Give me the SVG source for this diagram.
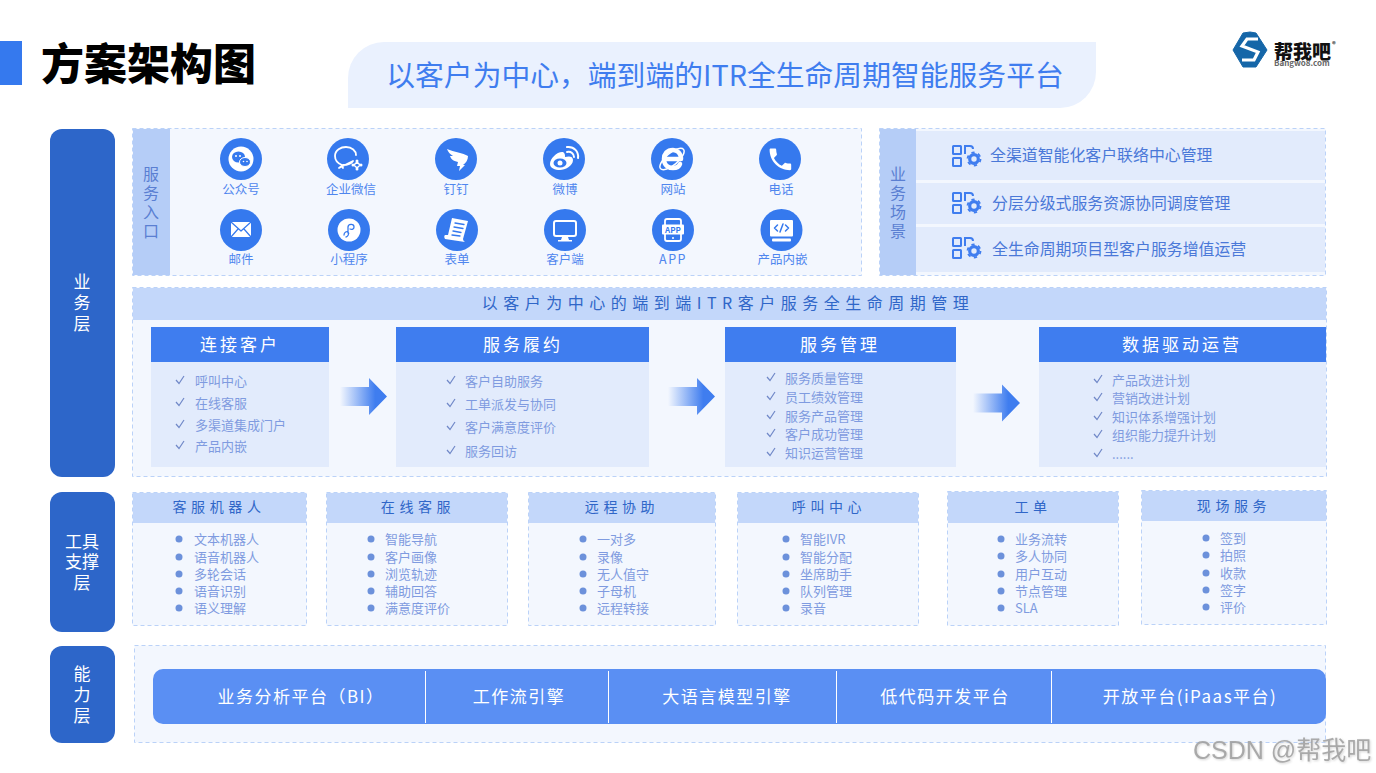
<svg xmlns="http://www.w3.org/2000/svg" width="1376" height="773" viewBox="0 0 1376 773">
<style>
text{font-family:"Noto Sans CJK SC","Noto Sans",sans-serif;dominant-baseline:central;transform:translateY(-0.7px)}
.m{text-anchor:middle}
.panel{fill:#F3F7FE;stroke:#BBD2F8;stroke-width:1;stroke-dasharray:4 3}
.side{fill:#B5CDF7}
.pill{fill:#2D66C9}
.pt{fill:#fff;font-size:17px;text-anchor:middle}
.pv{fill:#fff;font-size:17px;text-anchor:middle;writing-mode:vertical-rl;letter-spacing:4px;transform:none}
.st{fill:#5A7FD2;font-size:16px;text-anchor:middle;writing-mode:vertical-rl;letter-spacing:3px;transform:none}
.lab{fill:#4F86EE;font-size:12.5px;text-anchor:middle}
.row{fill:#E2EBFC}
.rt{fill:#4A78D8;font-size:15.9px}
.hd{fill:#3F7DEF}
.ht{fill:#fff;font-size:17px;letter-spacing:3px;text-anchor:middle}
.it{fill:#7F9BE0;font-size:13px}
.bar{fill:#C3D7FA}
.tt{fill:#2F66C8;font-size:14px;letter-spacing:4.6px;text-anchor:middle}
.dot{fill:#6C91DB}
.ck{fill:none;stroke:#7088C8;stroke-width:1.2}
.cir{fill:#3579EE}
.w{fill:#fff}
.ws{fill:none;stroke:#fff;stroke-linecap:round;stroke-linejoin:round}
.b{fill:#3579EE}
.bs{fill:none;stroke:#3579EE;stroke-linecap:round;stroke-linejoin:round}
.ct{fill:#fff;font-size:17px;letter-spacing:1.5px;text-anchor:middle}
.sc{fill:none;stroke:#3F7DEF;stroke-width:2}
</style>
<defs>
<linearGradient id="ag" x1="0" x2="1" y1="0" y2="0"><stop offset="0" stop-color="#3F7DEF" stop-opacity="0"/><stop offset="0.75" stop-color="#3F7DEF"/></linearGradient>
<path id="arr" d="M0,-9.500 H29 V-18.500 L47,0 L29,18.500 V9.500 H0 Z" fill="url(#ag)"/>
<path id="ck" class="ck" d="M-4,0 L-1,3.500 L4,-4"/>
<circle id="dt" class="dot" r="3.500"/>
<g id="sci">
<rect class="sc" x="1" y="1" width="8" height="8" rx="0.500"/>
<rect class="sc" x="1" y="13" width="8" height="8" rx="0.500"/>
<path class="sc" d="M13,9 V1 H18 C20,1 21,2 21,4"/>
<circle cx="22" cy="14" r="4.300" fill="none" stroke="#3F7DEF" stroke-width="3.200"/>
<circle cx="22" cy="14" r="6.500" fill="none" stroke="#3F7DEF" stroke-width="1.800" stroke-dasharray="3.300 3.500"/>
</g>
</defs>
<rect width="1376" height="773" fill="#fff"/>

<g id="header">
<rect x="0" y="41" width="22" height="44" fill="#3579EE"/>
<text x="41" y="61.500" font-size="43" font-weight="900" fill="#000">方案架构图</text>
<path d="M384,42 H1096 V72 A36,36 0 0 1 1060,108 H348 V78 A36,36 0 0 1 384,42 Z" fill="#EAF1FE"/>
<text class="m" x="725" y="74.500" font-size="28.8" fill="#3F7DEF">以客户为中心，端到端的ITR全生命周期智能服务平台</text>
</g>

<g id="logo">
<path d="M1250,32 L1256,33 L1267,50 L1256,67 L1250,67 L1243,67 L1233,50 L1243,33 Z" fill="#1566A8" stroke="#1566A8" stroke-width="1" stroke-linejoin="round"/>
<path d="M1258,39 H1247 L1242,46 L1258,52 L1254,60 H1242" fill="none" stroke="#fff" stroke-width="3.200"/>
<text font-weight="900"><tspan x="1274" y="50.500" font-size="19" fill="#111">帮我吧</tspan><tspan x="1332" y="45" font-size="7" fill="#333">®</tspan><tspan x="1274" y="62.500" font-size="8" font-weight="700" fill="#666">Bangwo8.com</tspan></text>
</g>

<g id="layer-business"><rect class="pill" x="50" y="129" width="65" height="348" rx="12"/><text class="pv" x="82" y="305">业务层</text></g>
<g id="layer-tools"><rect class="pill" x="50" y="492" width="65" height="140" rx="12"/><text class="pt"><tspan x="82" y="541">工具</tspan><tspan x="82" y="561">支撑</tspan><tspan x="82" y="582">层</tspan></text></g>
<g id="layer-capability"><rect class="pill" x="50" y="646" width="65" height="97" rx="12"/><text class="pv" x="82" y="697">能力层</text></g>

<g id="service-entry">
<rect class="panel" x="132.500" y="128.500" width="729" height="147"/>
<rect class="side" x="133" y="129" width="37" height="146"/>
<text class="st" x="151" y="204">服务入口</text>
</g>

<g id="entry-wechat" transform="translate(241,159)"><circle class="cir" r="21"/><circle class="w" r="12.500"/><ellipse class="b" cx="-2.500" cy="-2" rx="6.500" ry="5.500"/><ellipse class="b" cx="4" cy="3" rx="5.500" ry="4.500" stroke="#fff"/><circle class="w" cx="-5" cy="-3" r="1"/><circle class="w" cx="-1" cy="-3" r="1"/><circle class="w" cx="2.500" cy="2.500" r="0.800"/><circle class="w" cx="6" cy="2.500" r="0.800"/><text class="lab" y="30">公众号</text></g>
<g id="entry-wework" transform="translate(348,159)"><circle class="cir" r="21"/><path class="ws" stroke-width="1.800" d="M-5,9 L-6,6 C-11,4 -13,0 -13,-3 C-13,-9 -7,-12 -2,-12 C4,-12 8,-8 8,-4 M5,2 C3,5 -1,6 -5,6 L-9,9 Z"/><path class="ws" stroke-width="1.500" d="M6,6 L9,3 L12,6 L9,9 Z"/><circle class="w" cx="9" cy="2" r="1.500"/><circle class="w" cx="13" cy="6" r="1.500"/><circle class="w" cx="9" cy="10" r="1.500"/><circle class="w" cx="5" cy="6" r="1.500"/><text class="lab" x="3" y="30">企业微信</text></g>
<g id="entry-dingtalk" transform="translate(456,159)"><circle class="cir" r="21"/><path class="w" d="M-9,-10 C-2,-7 7,-6 12,-3 C12,1 10,4 7,6 L9,6 L3,12 L4,7 L1,7 L2,3 C-3,2 -5,0 -6,-3 L-3,-3 C-6,-5 -8,-7 -9,-10 Z"/><text class="lab" y="30">钉钉</text></g>
<g id="entry-weibo" transform="translate(564,159)"><circle class="cir" r="21"/><path class="w" d="M-14,5 C-14,-1 -6,-8 -1,-7 C1,-6 1,-4 1,-2 C5,-3 9,-3 9,1 C9,7 1,11 -4,11 C-9,11 -14,9 -14,5 Z"/><ellipse class="b" cx="-4" cy="4" rx="6.500" ry="4.500"/><circle class="w" cx="-4" cy="4" r="2.500"/><path class="ws" stroke-width="2" d="M3,-7 C7,-8 10,-5 10,-2 M3,-12 C10,-13 15,-7 14,-1"/><text class="lab" x="1" y="30">微博</text></g>
<g id="entry-website" transform="translate(672,159)"><circle class="cir" r="21"/><path class="ws" stroke-width="4.500" d="M-7,0 H9 C9,-6 5,-9 1,-9 C-5,-9 -8,-5 -8,0 C-8,6 -4,9 1,9 C4,9 7,8 8,5"/><ellipse class="ws" stroke-width="1.500" cx="0" cy="0" rx="15" ry="6" transform="rotate(-40)"/><text class="lab" x="1" y="30">网站</text></g>
<g id="entry-phone" transform="translate(780,159)"><circle class="cir" r="21"/><path class="w" transform="translate(-14,-14) scale(1.200)" d="M6.620 10.790c1.440 2.830 3.760 5.140 6.590 6.590l2.200-2.200c.27-.27.67-.36 1.020-.24 1.120.37 2.330.57 3.570.57.550 0 1 .45 1 1V20c0 .55-.45 1-1 1-9.390 0-17-7.610-17-17 0-.55.45-1 1-1h3.500c.55 0 1 .45 1 1 0 1.250.2 2.450.57 3.570.11.35.03.74-.25 1.020l-2.200 2.200z"/><text class="lab" x="1" y="30">电话</text></g>

<g id="entry-mail" transform="translate(241,230)"><circle class="cir" r="21"/><rect class="w" x="-10" y="-8" width="20" height="15"/><path class="bs" stroke-width="1.200" d="M-10,-8 L0,1 L10,-8 M-10,7 L-3,-1 M10,7 L3,-1"/><text class="lab" y="29">邮件</text></g>
<g id="entry-miniapp" transform="translate(349,230)"><circle class="cir" r="21"/><circle class="w" r="11.500"/><path class="bs" stroke-width="1.300" d="M-5,5 C-5,2 -2,1 -1,2 C1,4 -2,7 -3,7 M-1,3 V-3 C-1,-6 5,-7 5,-3 C5,-1 3,0 1,-1"/><text class="lab" y="29">小程序</text></g>
<g id="entry-form" transform="translate(457,230)"><circle class="cir" r="21"/><path class="w" d="M-5,-12 L11,-9 L6,9 C6,11 8,12 8,12 L-12,9 C-13,7 -13,6 -12,5 L-9,5 Z"/><path class="bs" stroke-width="1.300" d="M-2,-7 L7,-5.500 M-3,-3 L6,-1.500 M-4,1 L4,2.500 M-5,5 L3,6"/><text class="lab" y="29">表单</text></g>
<g id="entry-client" transform="translate(565,230)"><circle class="cir" r="21"/><rect class="ws" stroke-width="2" x="-11" y="-9" width="22" height="15" rx="2"/><path class="w" d="M-3,7 H3 L4,10 H7 V11.500 H-7 V10 H-4 Z"/><text class="lab" y="29">客户端</text></g>
<g id="entry-app" transform="translate(673,230)"><circle class="cir" r="21"/><rect class="ws" stroke-width="1.800" x="-8" y="-11" width="16" height="22" rx="2"/><rect class="w" x="-11" y="-5.500" width="22" height="10" rx="1"/><circle class="w" cx="0" cy="8" r="1"/><text class="m" y="0" font-size="8" font-weight="700" fill="#3579EE">APP</text><text class="lab" y="29" style="letter-spacing:1.500px">APP</text></g>
<g id="entry-embed" transform="translate(781.500,230)"><circle class="cir" r="21"/><rect class="w" x="-11.500" y="-10" width="23" height="16.500" rx="1"/><path class="bs" stroke-width="1.500" d="M-4,-5 L-7,-2 L-4,1 M4,-5 L7,-2 L4,1 M1.500,-6 L-1.500,2"/><rect class="w" x="-9.500" y="8.500" width="19" height="3" rx="1"/><text class="lab" x="1" y="29">产品内嵌</text></g>

<g id="scenes">
<rect class="panel" x="879.500" y="128.500" width="446" height="147"/>
<rect class="side" x="880" y="129" width="36" height="146"/>
<text class="st" x="898" y="204">业务场景</text>
</g>
<g id="scene-1"><rect class="row" x="916" y="131" width="409" height="49"/><use href="#sci" x="952" y="145"/><text class="rt" x="990" y="155">全渠道智能化客户联络中心管理</text></g>
<g id="scene-2"><rect class="row" x="916" y="183" width="409" height="41"/><use href="#sci" x="952" y="192"/><text class="rt" x="992" y="203">分层分级式服务资源协同调度管理</text></g>
<g id="scene-3"><rect class="row" x="916" y="227" width="409" height="45"/><use href="#sci" x="952" y="237"/><text class="rt" x="992" y="249">全生命周期项目型客户服务增值运营</text></g>

<g id="lifecycle">
<rect class="panel" x="132.500" y="287.500" width="1194" height="189"/>
<rect class="bar" x="133" y="288" width="1193" height="32"/>
<text class="m" x="728" y="303" font-size="16" letter-spacing="5.500" fill="#2F66C8">以客户为中心的端到端ITR客户服务全生命周期管理</text>
</g>

<g id="stage-connect">
<rect class="row" x="151" y="362" width="178" height="105"/><rect class="hd" x="151" y="327" width="178" height="35"/>
<text class="ht" x="240" y="344">连接客户</text>
<use href="#ck" x="180" y="380"/><text class="it" x="195" y="381">呼叫中心</text>
<use href="#ck" x="180" y="402"/><text class="it" x="195" y="403">在线客服</text>
<use href="#ck" x="180" y="424"/><text class="it" x="195" y="425">多渠道集成门户</text>
<use href="#ck" x="180" y="445"/><text class="it" x="195" y="446">产品内嵌</text>
</g>
<g id="stage-fulfil">
<rect class="row" x="396" y="362" width="253" height="105"/><rect class="hd" x="396" y="327" width="253" height="35"/>
<text class="ht" x="523" y="344">服务履约</text>
<use href="#ck" x="451" y="380"/><text class="it" x="465" y="381">客户自助服务</text>
<use href="#ck" x="451" y="403"/><text class="it" x="465" y="404">工单派发与协同</text>
<use href="#ck" x="451" y="426"/><text class="it" x="465" y="427">客户满意度评价</text>
<use href="#ck" x="451" y="450"/><text class="it" x="465" y="451">服务回访</text>
</g>
<g id="stage-manage">
<rect class="row" x="725" y="362" width="231" height="105"/><rect class="hd" x="725" y="327" width="231" height="35"/>
<text class="ht" x="840" y="344">服务管理</text>
<use href="#ck" x="771" y="377"/><text class="it" x="785" y="378">服务质量管理</text>
<use href="#ck" x="771" y="396"/><text class="it" x="785" y="397">员工绩效管理</text>
<use href="#ck" x="771" y="415"/><text class="it" x="785" y="416">服务产品管理</text>
<use href="#ck" x="771" y="433"/><text class="it" x="785" y="434">客户成功管理</text>
<use href="#ck" x="771" y="452"/><text class="it" x="785" y="453">知识运营管理</text>
</g>
<g id="stage-data">
<rect class="row" x="1039" y="362" width="287" height="105"/><rect class="hd" x="1039" y="327" width="287" height="35"/>
<text class="ht" x="1182" y="344">数据驱动运营</text>
<use href="#ck" x="1098" y="379"/><text class="it" x="1112" y="380">产品改进计划</text>
<use href="#ck" x="1098" y="397"/><text class="it" x="1112" y="398">营销改进计划</text>
<use href="#ck" x="1098" y="416"/><text class="it" x="1112" y="417">知识体系增强计划</text>
<use href="#ck" x="1098" y="434"/><text class="it" x="1112" y="435">组织能力提升计划</text>
<use href="#ck" x="1098" y="453"/><text class="it" x="1112" y="454">......</text>
</g>

<g id="connectors">
<use href="#arr" x="340" y="396.500"/>
<use href="#arr" x="668" y="396.500"/>
<use href="#arr" x="973" y="403"/>
</g>

<g id="tool-bot">
<rect class="panel" x="132.500" y="492.500" width="174" height="133"/><rect class="bar" x="133" y="493" width="173" height="30"/>
<text class="tt" x="219" y="507">客服机器人</text>
<use href="#dt" x="179" y="539"/><text class="it" x="194" y="539">文本机器人</text>
<use href="#dt" x="179" y="557"/><text class="it" x="194" y="557">语音机器人</text>
<use href="#dt" x="179" y="574"/><text class="it" x="194" y="574">多轮会话</text>
<use href="#dt" x="179" y="591"/><text class="it" x="194" y="591">语音识别</text>
<use href="#dt" x="179" y="608"/><text class="it" x="194" y="608">语义理解</text>
</g>
<g id="tool-online">
<rect class="panel" x="326.500" y="492.500" width="181" height="133"/><rect class="bar" x="327" y="493" width="180" height="30"/>
<text class="tt" x="418" y="507">在线客服</text>
<use href="#dt" x="371" y="539"/><text class="it" x="385" y="539">智能导航</text>
<use href="#dt" x="371" y="557"/><text class="it" x="385" y="557">客户画像</text>
<use href="#dt" x="371" y="574"/><text class="it" x="385" y="574">浏览轨迹</text>
<use href="#dt" x="371" y="591"/><text class="it" x="385" y="591">辅助回答</text>
<use href="#dt" x="371" y="608"/><text class="it" x="385" y="608">满意度评价</text>
</g>
<g id="tool-remote">
<rect class="panel" x="528.500" y="492.500" width="187" height="133"/><rect class="bar" x="529" y="493" width="186" height="30"/>
<text class="tt" x="622" y="507">远程协助</text>
<use href="#dt" x="583" y="539"/><text class="it" x="597" y="539">一对多</text>
<use href="#dt" x="583" y="557"/><text class="it" x="597" y="557">录像</text>
<use href="#dt" x="583" y="574"/><text class="it" x="597" y="574">无人值守</text>
<use href="#dt" x="583" y="591"/><text class="it" x="597" y="591">子母机</text>
<use href="#dt" x="583" y="608"/><text class="it" x="597" y="608">远程转接</text>
</g>
<g id="tool-callcenter">
<rect class="panel" x="737.500" y="492.500" width="181" height="133"/><rect class="bar" x="738" y="493" width="180" height="30"/>
<text class="tt" x="829" y="507">呼叫中心</text>
<use href="#dt" x="786" y="539"/><text class="it" x="800" y="539">智能IVR</text>
<use href="#dt" x="786" y="557"/><text class="it" x="800" y="557">智能分配</text>
<use href="#dt" x="786" y="574"/><text class="it" x="800" y="574">坐席助手</text>
<use href="#dt" x="786" y="591"/><text class="it" x="800" y="591">队列管理</text>
<use href="#dt" x="786" y="608"/><text class="it" x="800" y="608">录音</text>
</g>
<g id="tool-ticket">
<rect class="panel" x="947.500" y="491.500" width="171" height="134"/><rect class="bar" x="948" y="492" width="170" height="31"/>
<text class="tt" x="1033" y="507">工单</text>
<use href="#dt" x="1001" y="539"/><text class="it" x="1015" y="539">业务流转</text>
<use href="#dt" x="1001" y="556"/><text class="it" x="1015" y="556">多人协同</text>
<use href="#dt" x="1001" y="574"/><text class="it" x="1015" y="574">用户互动</text>
<use href="#dt" x="1001" y="591"/><text class="it" x="1015" y="591">节点管理</text>
<use href="#dt" x="1001" y="608"/><text class="it" x="1015" y="608">SLA</text>
</g>
<g id="tool-field">
<rect class="panel" x="1141.500" y="490.500" width="185" height="134"/><rect class="bar" x="1142" y="491" width="184" height="30"/>
<text class="tt" x="1234" y="506">现场服务</text>
<use href="#dt" x="1206" y="538"/><text class="it" x="1220" y="538">签到</text>
<use href="#dt" x="1206" y="555"/><text class="it" x="1220" y="555">拍照</text>
<use href="#dt" x="1206" y="573"/><text class="it" x="1220" y="573">收款</text>
<use href="#dt" x="1206" y="590"/><text class="it" x="1220" y="590">签字</text>
<use href="#dt" x="1206" y="607"/><text class="it" x="1220" y="607">评价</text>
</g>

<g id="capability">
<rect class="panel" x="134.500" y="645.500" width="1191" height="97"/>
<rect x="153" y="669" width="1173" height="55" rx="10" fill="#5A8FF3"/>
<path d="M425.500,671 V723 M608.500,671 V723 M836.500,671 V723 M1051.500,671 V723" stroke="#fff" fill="none"/>
<text class="ct" x="301" y="696">业务分析平台（BI）</text>
<text class="ct" x="519" y="696">工作流引擎</text>
<text class="ct" x="727" y="696">大语言模型引擎</text>
<text class="ct" x="945" y="696">低代码开发平台</text>
<text class="ct" x="1190" y="696">开放平台(iPaas平台)</text>
</g>

<text x="1193" y="750.500" font-size="25" fill="#9A9A9A" fill-opacity="0.8" style="font-family:'Liberation Sans','Noto Sans CJK SC',sans-serif;filter:drop-shadow(1px 1px 1px #c8c8c8)">CSDN @帮我吧</text>
</svg>
